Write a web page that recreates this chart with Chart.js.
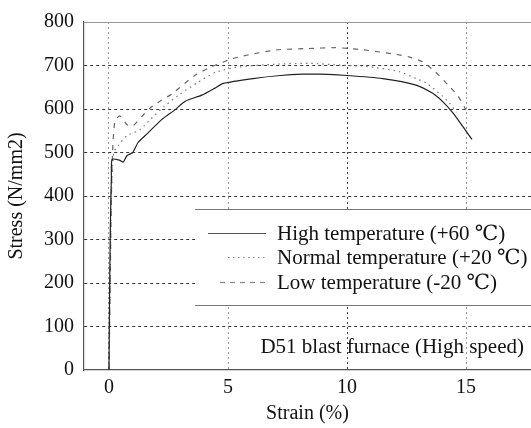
<!DOCTYPE html>
<html>
<head>
<meta charset="utf-8">
<script src="https://cdn.jsdelivr.net/npm/chart.js@4"></script>
<style>
  html, body { margin: 0; padding: 0; background: #fff; }
  #wrap { width: 531px; height: 428px; position: relative; }
</style>
</head>
<body>
<div id="wrap"><canvas id="chart"></canvas></div>
<script>
// strain (%) / stress (N/mm2)
const highStrain = [0, 0.02, 0.05, 0.08, 0.1, 0.13, 0.46, 0.6, 0.76, 1.0, 1.22, 1.64, 2.2, 2.77, 3.2, 3.9, 4.45, 4.8, 6.05, 7.2, 8.15, 8.87, 10.0, 11.5, 12.9, 13.6, 14.0, 14.45, 14.9, 15.25];
const highStress = [0, 150, 300, 400, 440, 484, 482, 478, 493, 500, 523, 545, 575, 598, 618, 632, 648, 659, 670, 677, 680, 680, 677, 670, 655, 636, 618, 591, 557, 530];

const normalStrain = [0, 0.05, 0.1, 0.2, 0.38, 0.76, 1.3, 1.72, 2.3, 3.0, 3.7, 4.5, 5.5, 7.0, 8.4, 10.0, 10.8, 12.2, 12.9, 13.35, 14.0, 14.3, 14.6];
const normalStress = [0, 200, 400, 500, 516, 539, 552, 575, 605, 635, 660, 685, 697, 703, 705, 700, 698, 686, 670, 659, 630, 614, 592];

const lowStrain = [0, 0.05, 0.1, 0.15, 0.25, 0.46, 0.76, 1.0, 1.4, 1.72, 2.14, 2.65, 3.6, 4.3, 5.2, 5.9, 7.05, 8.36, 9.5, 10.1, 10.7, 11.9, 12.6, 13.15, 13.7, 14.25, 14.66, 15.0];
const lowStress = [0, 200, 400, 500, 573, 584, 564, 561, 584, 602, 618, 635, 677, 697, 716, 725, 736, 739, 741, 739, 736, 727, 720, 709, 686, 655, 630, 598];

const xTicks = [0, 5, 10, 15];
const legendLabels = ["High temperature (+60 \u2103)", "Normal temperature (+20 \u2103)", "Low temperature (-20 \u2103)"];
const noteText = "D51 blast furnace (High speed)";

const SERIF = "'Liberation Serif', 'DejaVu Serif', serif";

function pts(xs, ys) {
    return xs.map((x, i) => ({ x: x, y: ys[i] }));
}

// white box with legend + note, drawn over the grid
const legendBox = {
    id: "legendBox",
    beforeDatasetsDraw(chart) {
        const { ctx, chartArea } = chart;
        const left = chartArea.left + 111;
        const right = chartArea.right;
        const top = 209, bottom = 305;
        ctx.save();
        ctx.fillStyle = "#fff";
        ctx.fillRect(left, top, right - left, bottom - top);
        ctx.strokeStyle = "#777";
        ctx.lineWidth = 1.2;
        ctx.beginPath();
        ctx.moveTo(left, top + 0.5); ctx.lineTo(right, top + 0.5);
        ctx.moveTo(left, bottom + 0.5); ctx.lineTo(right, bottom + 0.5);
        ctx.stroke();

        const rows = [233, 257, 282];
        const dashes = [[], [1.5, 3.5], [5, 5]];
        const starts = [208, 228, 220];
        ctx.font = "21px " + SERIF;
        ctx.textBaseline = "middle";
        ctx.fillStyle = "#111";
        rows.forEach((y, i) => {
            ctx.strokeStyle = i === 0 ? "#555" : "#888";
            ctx.lineWidth = 1.2;
            ctx.setLineDash(dashes[i]);
            ctx.beginPath();
            ctx.moveTo(starts[i], y + 0.5);
            ctx.lineTo(266, y + 0.5);
            ctx.stroke();
            ctx.setLineDash([]);
            ctx.fillText(legendLabels[i], 277, y + 1);
        });
        ctx.restore();
    },
    afterDatasetsDraw(chart) {
        const { ctx, chartArea } = chart;
        ctx.save();
        ctx.font = "21px " + SERIF;
        ctx.textBaseline = "middle";
        ctx.textAlign = "right";
        ctx.fillStyle = "#111";
        ctx.fillText(noteText, chartArea.right - 7, 347);
        // top frame line
        ctx.strokeStyle = "#999";
        ctx.lineWidth = 1;
        ctx.beginPath();
        ctx.moveTo(chartArea.left, chartArea.top + 0.5);
        ctx.lineTo(chartArea.right, chartArea.top + 0.5);
        ctx.stroke();
        ctx.restore();
    }
};

const ctx = document.getElementById("chart").getContext("2d");

new Chart(ctx, {
    type: "scatter",
    data: {
        datasets: [
            {
                label: legendLabels[0],
                data: pts(highStrain, highStress),
                showLine: true,
                borderColor: "#222",
                borderWidth: 1.2,
                pointRadius: 0,
                tension: 0.2
            },
            {
                label: legendLabels[1],
                data: pts(normalStrain, normalStress),
                showLine: true,
                borderColor: "#777",
                borderWidth: 1.2,
                borderDash: [1.5, 4],
                pointRadius: 0,
                tension: 0.2
            },
            {
                label: legendLabels[2],
                data: pts(lowStrain, lowStress),
                showLine: true,
                borderColor: "#666",
                borderWidth: 1.2,
                borderDash: [5, 6],
                pointRadius: 0,
                tension: 0.2
            }
        ]
    },
    options: {
        responsive: true,
        maintainAspectRatio: false,
        animation: false,
        layout: { padding: { top: 18, right: 0, left: 0, bottom: 0 } },
        scales: {
            x: {
                type: "linear",
                min: -1.05,
                max: 17.73,
                afterBuildTicks: (scale) => { scale.ticks = xTicks.map(v => ({ value: v })); },
                afterFit: (scale) => { scale.height = 58; },
                grid: {
                    color: (c) => c.tick && c.tick.value === 10 ? "#444" : "#999",
                    lineWidth: 1,
                    drawTicks: false
                },
                border: { display: true, color: "#555", width: 1.2, dash: [2, 3] },
                ticks: {
                    color: "#111",
                    padding: 6,
                    font: { family: SERIF, size: 20 }
                },
                title: {
                    display: true,
                    text: "Strain (%)",
                    color: "#111",
                    font: { family: SERIF, size: 20 },
                    padding: { top: 0, bottom: 2 }
                }
            },
            y: {
                min: 0,
                max: 800,
                afterFit: (scale) => { scale.width = 84; },
                grid: {
                    color: (c) => (c.tick && (c.tick.value === 0 || c.tick.value === 800)) ? "rgba(0,0,0,0)" : "#333",
                    lineWidth: 1,
                    drawTicks: false
                },
                border: { display: true, color: "#555", width: 1.2, dash: [3, 3] },
                ticks: {
                    stepSize: 100,
                    color: "#111",
                    padding: 10,
                    font: { family: SERIF, size: 20 }
                },
                title: {
                    display: true,
                    text: "Stress (N/mm2)",
                    color: "#111",
                    font: { family: SERIF, size: 20 },
                    padding: { top: 5, bottom: 0 }
                }
            }
        },
        plugins: {
            legend: { display: false },
            tooltip: { enabled: false }
        }
    },
    plugins: [legendBox]
});
</script>
</body>
</html>
